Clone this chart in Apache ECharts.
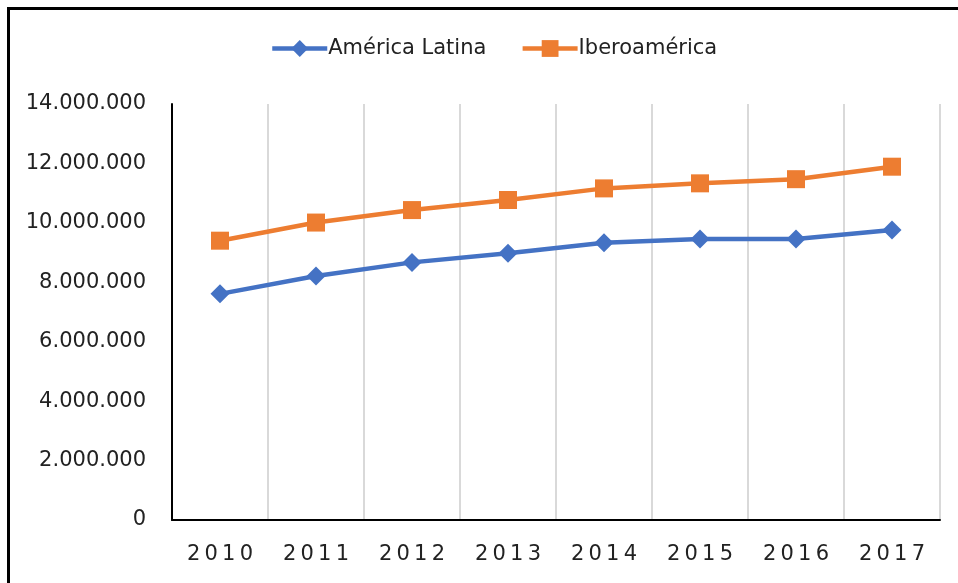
<!DOCTYPE html>
<html>
<head>
<meta charset="utf-8">
<script src="https://cdn.jsdelivr.net/npm/echarts@6/dist/echarts.min.js"></script>
<style>html,body{margin:0;padding:0;background:#fff;}#c{width:958px;height:583px;}</style>
</head>
<body>
<div id="c"></div>
<script>
const years = ['2010','2011','2012','2013','2014','2015','2016','2017'];
const americaLatina = [7610000, 8210000, 8670000, 8980000, 9330000, 9460000, 9460000, 9760000];
const iberoamerica = [9400000, 10010000, 10430000, 10770000, 11160000, 11330000, 11470000, 11890000];
const yTicks = [0, 2000000, 4000000, 6000000, 8000000, 10000000, 12000000, 14000000];

const chart = echarts.init(document.getElementById('c'));
const fmt = v => String(v).replace(/\B(?=(\d{3})+(?!\d))/g, '.');
const font = 'DejaVu Sans';
chart.setOption({
  backgroundColor: '#fff',
  animation: false,
  textStyle: { fontFamily: font },
  graphic: [
    { type: 'rect', shape: { x: 7, y: 7, width: 960, height: 3 }, style: { fill: '#000' } },
    { type: 'rect', shape: { x: 7, y: 7, width: 3, height: 600 }, style: { fill: '#000' } }
  ],
  legend: {
    left: 265, top: 33,
    itemWidth: 55, itemHeight: 21, itemGap: 34,
    lineStyle: { width: 4.5 },
    textStyle: { fontFamily: font, fontSize: 21, color: '#222', padding: [0, 0, 0, -4] },
    data: ['América Latina', 'Iberoamérica']
  },
  grid: { left: 172, right: 18, top: 104, bottom: 63, containLabel: false },
  xAxis: {
    type: 'category', data: years, boundaryGap: true,
    axisLine: { lineStyle: { color: '#000', width: 2 } },
    axisTick: { show: false },
    axisLabel: { margin: 24, fontSize: 21, color: '#222', fontFamily: font,
      formatter: v => v.split('').join('\u2009') },
    splitLine: { show: true, lineStyle: { color: '#d9d9d9', width: 2 } }
  },
  yAxis: {
    type: 'value', min: yTicks[0], max: yTicks[yTicks.length - 1], interval: yTicks[1] - yTicks[0],
    axisLine: { show: true, lineStyle: { color: '#000', width: 2 } },
    axisTick: { show: false },
    splitLine: { show: false },
    axisLabel: { margin: 26, fontSize: 21, color: '#222', fontFamily: font, formatter: fmt }
  },
  series: [
    { name: 'América Latina', type: 'line', data: americaLatina,
      symbol: 'diamond', symbolSize: 19,
      lineStyle: { color: '#4472C4', width: 4.5 }, itemStyle: { color: '#4472C4' } },
    { name: 'Iberoamérica', type: 'line', data: iberoamerica,
      symbol: 'rect', symbolSize: 18,
      lineStyle: { color: '#ED7D31', width: 4.5 }, itemStyle: { color: '#ED7D31' } }
  ]
});
</script>
</body>
</html>
